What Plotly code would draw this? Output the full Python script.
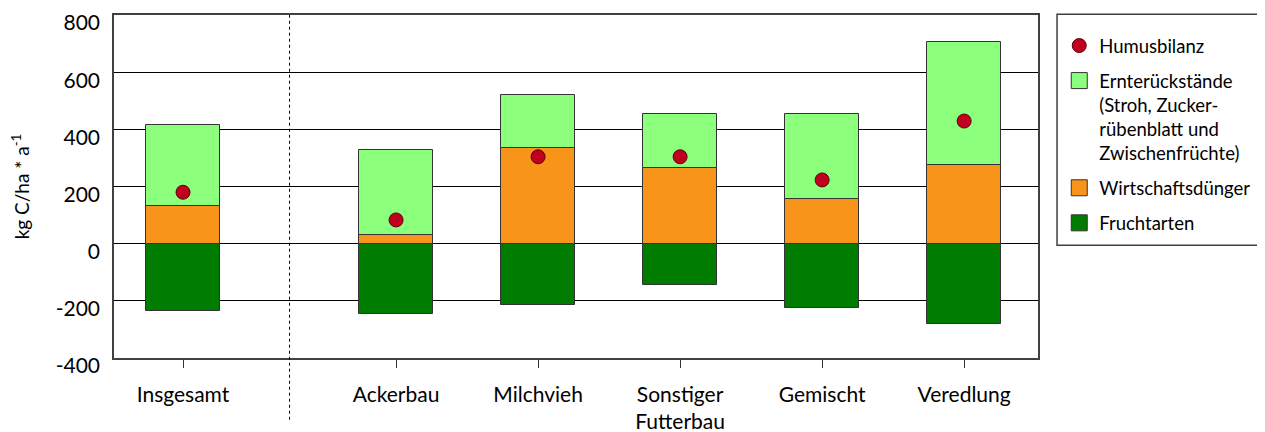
import plotly.graph_objects as go

categories = ["Insgesamt", "Ackerbau", "Milchvieh", "Sonstiger<br>Futterbau", "Gemischt", "Veredlung"]
positions = [0, 1.5, 2.5, 3.5, 4.5, 5.5]
fruchtarten = [-235, -245, -216, -143, -225, -282]
wirtschaftsduenger = [133, 32, 336, 264, 157, 275]
ernterueckstaende = [283, 295, 184, 190, 297, 430]
humusbilanz = [180, 83, 304, 304, 223, 429]
ytick_vals = [-400, -200, 0, 200, 400, 600, 800]
ytick_text = ["-400", "-200", "0", "200", "400", "600", "800"]

FONT = "Lato"
EDGE = "#333333"
series = [
    ("Fruchtarten", fruchtarten, "#007D00", 4),
    ("Wirtschaftsdünger", wirtschaftsduenger, "#F79419", 3),
    ("Ernterückstände<br>(Stroh, Zucker-<br>rübenblatt und<br>Zwischenfrüchte)", ernterueckstaende, "#8CFF7C", 2),
]

fig = go.Figure()
for name, vals, color, rank in series:
    fig.add_trace(go.Bar(x=positions, y=vals, name=name, width=0.52, showlegend=False,
                         legendgroup=name, marker=dict(color=color, line=dict(color=EDGE, width=1))))
    # legend entry with a larger square symbol
    fig.add_trace(go.Scatter(x=[None], y=[None], mode="markers", name=name, legendgroup=name,
                             legendrank=rank, showlegend=True,
                             marker=dict(symbol="square", size=17, color=color,
                                         line=dict(color=EDGE, width=1))))
fig.add_trace(go.Scatter(x=positions, y=humusbilanz, name="Humusbilanz", mode="markers",
                         marker=dict(color="#C0001E", size=14, line=dict(color="#5a0010", width=1)),
                         legendrank=1, legendgroup="Humusbilanz"))

sep_x = (positions[0] + positions[1]) / 2
fig.add_shape(type="line", xref="x", yref="paper", x0=sep_x, x1=sep_x, y0=-0.18, y1=1,
              line=dict(color="black", width=1, dash="dot"))
# legend frame
fig.add_shape(type="rect", xref="paper", yref="paper", x0=1.0206, x1=1.2435, y0=0.3286, y1=1.002,
              line=dict(color="#404040", width=1.5))

fig.update_layout(
    width=1257, height=424,
    margin=dict(l=106, r=227, t=7, b=74, autoexpand=False),
    barmode="relative",
    bargap=0,
    plot_bgcolor="white", paper_bgcolor="white",
    font=dict(family=FONT, size=21, color="black"),
    showlegend=True,
    legend=dict(x=1.023, xanchor="left", y=0.965, yanchor="top", traceorder="grouped",
                tracegroupgap=8, valign="top", font=dict(family=FONT, size=18.5, color="black"),
                bgcolor="rgba(0,0,0,0)", borderwidth=0, itemsizing="trace"),
    xaxis=dict(range=[-0.486, 6.02], tickvals=positions, ticktext=categories,
               ticks="outside", ticklen=8, tickcolor="#333333", showgrid=False, zeroline=False,
               showline=True, linecolor="#404040", linewidth=1.5, mirror=True,
               tickfont=dict(size=21), automargin=False, ticklabelstandoff=9),
    yaxis=dict(range=[-400, 800], tickvals=ytick_vals, ticktext=ytick_text,
               showgrid=True, gridcolor="black", gridwidth=1,
               zeroline=True, zerolinecolor="black", zerolinewidth=1,
               showline=True, linecolor="#404040", linewidth=1.5, mirror=True,
               ticks="", tickfont=dict(size=21), automargin=False, ticklabelstandoff=8,
               ticklabelshift=8, ticklabeloverflow="allow",
               title=dict(text="kg C/ha * a<sup>-1</sup>", font=dict(size=19), standoff=26)),
)

fig.write_html("out.html")
